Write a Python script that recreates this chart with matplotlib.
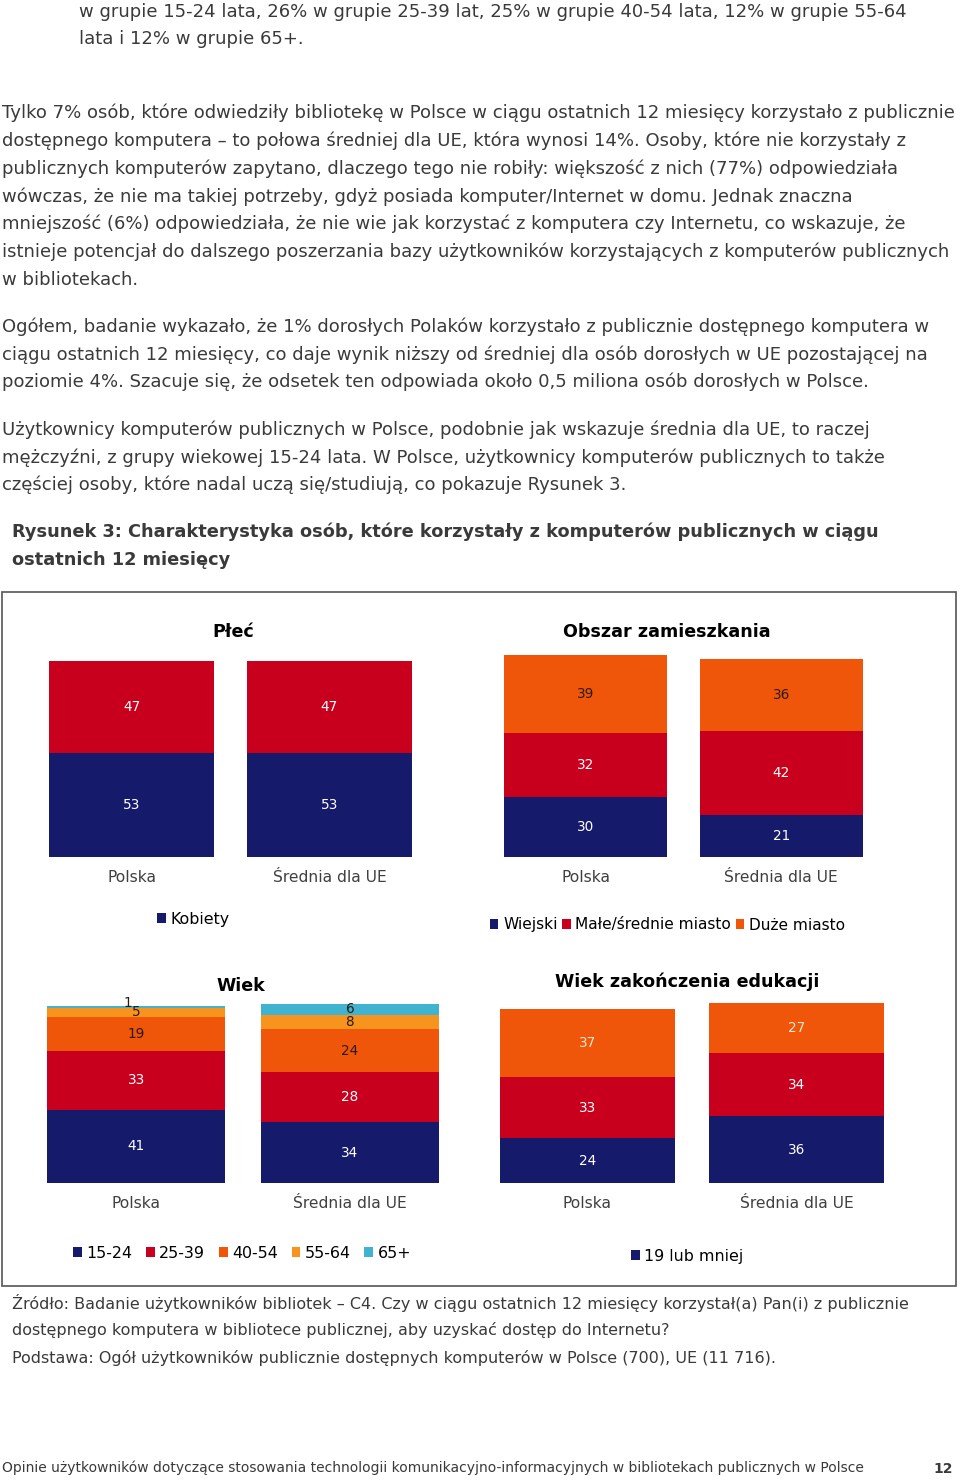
import matplotlib
matplotlib.use("Agg")
import matplotlib.pyplot as plt
from matplotlib.patches import Rectangle

plt.rcParams['font.family'] = ['DejaVu Sans']

W, H = 960, 1480
TXT = "#3a3a3a"
NAVY = "#151a6a"
RED = "#c8001e"
ORANGE = "#ef560a"
LORANGE = "#f7941d"
LBLUE = "#3fb3cf"

# --- dane ---
kraje = ["Polska", "Średnia dla UE"]

plec_kobiety = [53, 53]
plec_mezczyzni = [47, 47]

obszar_wiejski = [30, 21]
obszar_male = [32, 42]
obszar_duze = [39, 36]

wiek_15_24 = [41, 34]
wiek_25_39 = [33, 28]
wiek_40_54 = [19, 24]
wiek_55_64 = [5, 8]
wiek_65 = [1, 6]

edu_19 = [24, 36]
edu_20 = [33, 34]
edu_student = [37, 27]

akapit_1 = ["w grupie 15-24 lata, 26% w grupie 25-39 lat, 25% w grupie 40-54 lata, 12% w grupie 55-64",
            "lata i 12% w grupie 65+."]
akapit_2 = ["Tylko 7% osób, które odwiedziły bibliotekę w Polsce w ciągu ostatnich 12 miesięcy korzystało z publicznie",
            "dostępnego komputera – to połowa średniej dla UE, która wynosi 14%. Osoby, które nie korzystały z",
            "publicznych komputerów zapytano, dlaczego tego nie robiły: większość z nich (77%) odpowiedziała",
            "wówczas, że nie ma takiej potrzeby, gdyż posiada komputer/Internet w domu. Jednak znaczna",
            "mniejszość (6%) odpowiedziała, że nie wie jak korzystać z komputera czy Internetu, co wskazuje, że",
            "istnieje potencjał do dalszego poszerzania bazy użytkowników korzystających z komputerów publicznych",
            "w bibliotekach."]
akapit_3 = ["Ogółem, badanie wykazało, że 1% dorosłych Polaków korzystało z publicznie dostępnego komputera w",
            "ciągu ostatnich 12 miesięcy, co daje wynik niższy od średniej dla osób dorosłych w UE pozostającej na",
            "poziomie 4%. Szacuje się, że odsetek ten odpowiada około 0,5 miliona osób dorosłych w Polsce."]
akapit_4 = ["Użytkownicy komputerów publicznych w Polsce, podobnie jak wskazuje średnia dla UE, to raczej",
            "mężczyźni, z grupy wiekowej 15-24 lata. W Polsce, użytkownicy komputerów publicznych to także",
            "częściej osoby, które nadal uczą się/studiują, co pokazuje Rysunek 3."]
podpis = ["Rysunek 3: Charakterystyka osób, które korzystały z komputerów publicznych w ciągu",
          "ostatnich 12 miesięcy"]
zrodlo = ["Źródło: Badanie użytkowników bibliotek – C4. Czy w ciągu ostatnich 12 miesięcy korzystał(a) Pan(i) z publicznie",
          "dostępnego komputera w bibliotece publicznej, aby uzyskać dostęp do Internetu?",
          "Podstawa: Ogół użytkowników publicznie dostępnych komputerów w Polsce (700), UE (11 716)."]
stopka = "Opinie użytkowników dotyczące stosowania technologii komunikacyjno-informacyjnych w bibliotekach publicznych w Polsce"

fig = plt.figure(figsize=(W / 100, H / 100), dpi=100)


def ptext(x, y, s, **kw):
    fig.text(x / W, 1 - y / H, s, va="center", **kw)


def lines(x, y0, step, rows, **kw):
    for i, r in enumerate(rows):
        ptext(x, y0 + i * step, r, **kw)


body = dict(fontsize=12.95, color=TXT)
lines(79, 12, 27.5, akapit_1, **body)
lines(2, 113, 27.8, akapit_2, **body)
lines(2, 327, 27.5, akapit_3, **body)
lines(2, 430, 27.5, akapit_4, **body)
lines(12, 532, 28, podpis, fontsize=12.75, color=TXT, fontweight="bold")
lines(12, 1303, 27.5, zrodlo, fontsize=11.55, color=TXT)
ptext(2, 1468, stopka, fontsize=9.97, color=TXT)
ptext(943, 1469, "12", fontsize=10, color=TXT, fontweight="bold", ha="center")

# ramka wykresu
fig.add_artist(Rectangle((2 / W, 1 - 1286 / H), 954 / W, 694 / H, transform=fig.transFigure,
                         fill=False, edgecolor="#555555", lw=1.2))


def panel(left, right, bottom, scale):
    # scale = piksele na 1 punkt procentowy
    top = bottom - 110 * scale
    ax = fig.add_axes([left / W, 1 - bottom / H, (right - left) / W, (bottom - top) / H])
    ax.set_xlim(-0.417, 1.417)
    ax.set_ylim(0, 110)
    for s in ax.spines.values():
        s.set_visible(False)
    ax.set_yticks([])
    ax.set_xticks([0, 1])
    ax.set_xticklabels(kraje, fontsize=11.2, color="#404040")
    ax.tick_params(axis="x", length=0, pad=9)
    return ax


def stack(ax, series, colors, labelcolors, offsets=None):
    base = [0, 0]
    conts = []
    for k, (vals, c, lc) in enumerate(zip(series, colors, labelcolors)):
        b = ax.bar([0, 1], vals, width=0.833, bottom=base, color=c, linewidth=0)
        conts.append(b)
        for i, v in enumerate(vals):
            dx, dy = (0, 0)
            if offsets and (k, i) in offsets:
                dx, dy = offsets[(k, i)]
            ax.annotate(str(v), (i, base[i] + v / 2), xytext=(dx, dy), textcoords="offset points",
                        ha="center", va="center", fontsize=9.8, color=lc)
        base = [base[j] + vals[j] for j in range(2)]
    return conts


def legenda(ax, handles, labels, x, y, ncol, colsp=0.4, fs=11.4):
    ax.legend(handles, labels, loc="center left", bbox_to_anchor=(x / W, 1 - y / H),
              bbox_transform=fig.transFigure, ncol=ncol, frameon=False, fontsize=fs,
              handlelength=0.55, handleheight=0.55, handletextpad=0.3, columnspacing=colsp,
              borderaxespad=0, borderpad=0)


# Płeć
ax1 = panel(49, 412, 857, 1.96)
c1 = stack(ax1, [plec_kobiety, plec_mezczyzni], [NAVY, RED], ["white", "white"])
ptext(233, 632, "Płeć", fontsize=12.6, fontweight="bold", color="black", ha="center")
legenda(ax1, [c1[0]], ["Kobiety"], 157, 919, 1)

# Obszar zamieszkania
ax2 = panel(504, 863, 857, 2.0)
c2 = stack(ax2, [obszar_wiejski, obszar_male, obszar_duze], [NAVY, RED, ORANGE],
           ["white", "white", "#2a1a10"])
ptext(667, 632, "Obszar zamieszkania", fontsize=12.6, fontweight="bold", color="black", ha="center")
legenda(ax2, c2, ["Wiejski", "Małe/średnie miasto", "Duże miasto"], 490, 925, 3, colsp=0.3, fs=11.1)

# Wiek
ax3 = panel(47, 439, 1183, 1.79)
c3 = stack(ax3, [wiek_15_24, wiek_25_39, wiek_40_54, wiek_55_64, wiek_65],
           [NAVY, RED, ORANGE, LORANGE, LBLUE],
           ["white", "white", "#2a1a10", "#2a1a10", "#2a1a10"],
           offsets={(4, 0): (-6, 3)})
ptext(241, 986, "Wiek", fontsize=12.6, fontweight="bold", color="black", ha="center")
legenda(ax3, c3, ["15-24", "25-39", "40-54", "55-64", "65+"], 73, 1253, 5, colsp=0.85)

# Wiek zakończenia edukacji
ax4 = panel(500, 884, 1183, 1.855)
c4 = stack(ax4, [edu_19, edu_20, edu_student], [NAVY, RED, ORANGE],
           ["white", "white", "#fbe3cf"])
ptext(687, 982, "Wiek zakończenia edukacji", fontsize=12.6, fontweight="bold", color="black", ha="center")
legenda(ax4, [c4[0]], ["19 lub mniej"], 631, 1256, 1)

fig.savefig("out.png", dpi=100)
